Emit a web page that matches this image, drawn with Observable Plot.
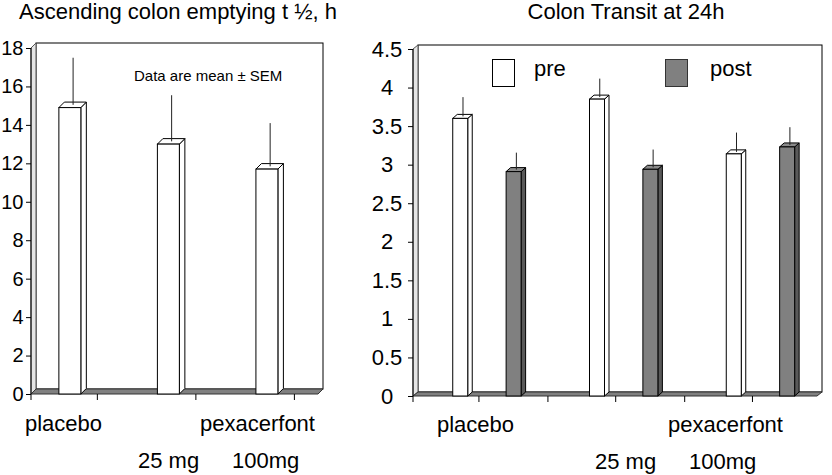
<!DOCTYPE html>
<html><head><meta charset="utf-8">
<script src="https://cdn.jsdelivr.net/npm/d3@7"></script>
<script src="https://cdn.jsdelivr.net/npm/@observablehq/plot@0.6"></script>
<style>
body{margin:0;background:#fff;}
#wrap{position:relative;width:832px;height:475px;overflow:hidden;font-family:"Liberation Sans",Arial,sans-serif;}
#wrap > svg{position:absolute;top:0;margin:0;overflow:visible;}
</style></head><body><div id="wrap"></div>
<script>
// ---------- data ----------
const emptyingGroups = ["placebo", "25 mg", "100mg"];
const emptyingMean = [14.9, 13.0, 11.7];
const emptyingSEM = [2.45, 2.4, 2.25];
const emptyingTicks = [0, 2, 4, 6, 8, 10, 12, 14, 16, 18];

const transitGroups = ["placebo", "25 mg", "100mg"];
const transitPreMean = [3.60, 3.85, 3.14];
const transitPreSEM = [0.25, 0.24, 0.25];
const transitPostMean = [2.91, 2.94, 3.23];
const transitPostSEM = [0.22, 0.23, 0.23];
const transitTicks = [0, 0.5, 1, 1.5, 2, 2.5, 3, 3.5, 4, 4.5];
const seriesNames = ["pre", "post"];

const leftTitle = "Ascending colon emptying t \u00bd, h";
const rightTitle = "Colon Transit at 24h";
const note = "Data are mean \u00b1 SEM";
const rowLabels1 = ["placebo", "pexacerfont"];
const rowLabels2 = ["25 mg", "100mg"];

const FONT = '"Liberation Sans", Arial, sans-serif';
const GRAY = "#808080";

// ---------- helpers ----------
function walls(ymax, [dx, dy]) {
  return (index, {y}, values, dims) => {
    const x0 = dims.marginLeft, x1 = dims.width - dims.marginRight;
    const y0 = y(0), yt = y(ymax);
    const g = d3.create("svg:g");
    g.append("rect").attr("x", x0 + dx).attr("y", yt - dy).attr("width", x1 - x0).attr("height", y0 - yt)
      .attr("fill", "white").attr("stroke", "black");
    g.append("path").attr("d", `M${x0},${y0}V${yt}L${x0 + dx},${yt - dy}V${y0 - dy}Z`)
      .attr("fill", "#e4e4e4").attr("stroke", "#555");
    g.append("path").attr("d", `M${x0},${y0}H${x1}L${x1 + dx},${y0 - dy}H${x0 + dx}Z`)
      .attr("fill", GRAY).attr("stroke", "#333");
    g.append("line").attr("x1", x0).attr("x2", x0).attr("y1", yt).attr("y2", y0 + 6).attr("stroke", "black");
    return g.node();
  };
}
function faces3d(rows, {place, w, depth: [dx, dy], top, side}) {
  return (index, {x, y}) => {
    const g = d3.create("svg:g");
    const bw = x.bandwidth();
    for (const r of rows) {
      const xl = x(r.group) + place(bw), xr = xl + w;
      const yt = y(r.mean), yb = y(0);
      g.append("path").attr("d", `M${xr},${yt}L${xr + dx},${yt - dy}V${yb - dy}L${xr},${yb}Z`)
        .attr("fill", side).attr("stroke", "black");
      g.append("path").attr("d", `M${xl},${yt}L${xl + dx},${yt - dy}H${xr + dx}L${xr},${yt}Z`)
        .attr("fill", top).attr("stroke", "black");
    }
    return g.node();
  };
}

const wrap = document.getElementById("wrap");

// ---------- left panel ----------
const leftRows = emptyingGroups.map((g, i) => ({group: g, mean: emptyingMean[i], sem: emptyingSEM[i]}));
const L = {width: 340, height: 475, marginLeft: 31, marginRight: 22, marginTop: 48, marginBottom: 81};
const leftX = {type: "band", domain: emptyingGroups, paddingInner: 0.777, paddingOuter: 0.345, align: 0.41, round: false, label: null};
const leftBw = Plot.scale({x: {...leftX, range: [L.marginLeft, L.width - L.marginRight]}}).bandwidth;
const leftPlot = Plot.plot({
  ...L,
  x: leftX,
  y: {domain: [0, 18], label: null},
  style: {fontFamily: FONT, fontSize: "22px", color: "black", background: "none"},
  marks: [
    walls(18, [5, 5]),
    Plot.axisY({ticks: emptyingTicks, tickSize: 5, tickPadding: 3, fontSize: 20, tickFormat: d => String(d), label: null}),
    Plot.axisX({fill: "none", tickSize: 6, dx: 27, label: null}),
    faces3d(leftRows, {place: () => 0, w: leftBw, depth: [5.5, 5.5], top: "white", side: "white"}),
    Plot.barY(leftRows, {x: "group", y: "mean", fill: "white", stroke: "black"}),
    Plot.ruleX(leftRows, {x: "group", y1: "mean", y2: d => d.mean + d.sem, dx: 2.75, dy: -2.75, stroke: "#222"})
  ]
});
leftPlot.style.left = "0px";
wrap.appendChild(leftPlot);

// ---------- right panel ----------
const preRows = transitGroups.map((g, i) => ({group: g, series: seriesNames[0], mean: transitPreMean[i], sem: transitPreSEM[i]}));
const postRows = transitGroups.map((g, i) => ({group: g, series: seriesNames[1], mean: transitPostMean[i], sem: transitPostSEM[i]}));
const R = {width: 492, height: 475, marginLeft: 73, marginRight: 15, marginTop: 49, marginBottom: 79};
const rightX = {type: "band", domain: transitGroups, paddingInner: 0.5, paddingOuter: 0.227, align: 0.64, round: false, label: null};
const rBw = Plot.scale({x: {...rightX, range: [R.marginLeft, R.width - R.marginRight]}}).bandwidth;
const BW = 15;
const rDepth = [4.5, 4];
const rightPlot = Plot.plot({
  ...R,
  x: rightX,
  y: {domain: [0, 4.5], label: null},
  style: {fontFamily: FONT, fontSize: "22px", color: "black", background: "none"},
  marks: [
    walls(4.5, [5, 4]),
    Plot.axisY({ticks: transitTicks, tickSize: 5, tickPadding: 21.5, textAnchor: "middle", tickFormat: d => String(d), label: null}),
    Plot.axisX({fill: "none", tickSize: 6, dx: -8.5, label: null}),
    Plot.axisX({fill: "none", tickSize: 6, dx: 60.5, ticks: transitGroups.slice(0, 2), label: null}),
    faces3d(preRows, {place: () => 0, w: BW, depth: rDepth, top: "white", side: "white"}),
    faces3d(postRows, {place: bw => bw - BW, w: BW, depth: rDepth, top: "#8a8a8a", side: "#595959"}),
    Plot.barY(preRows, {x: "group", y: "mean", fill: "white", stroke: "black", insetRight: rBw - BW}),
    Plot.barY(postRows, {x: "group", y: "mean", fill: GRAY, stroke: "black", insetLeft: rBw - BW}),
    Plot.ruleX(preRows, {x: "group", y1: "mean", y2: d => d.mean + d.sem, dx: -rBw / 2 + BW / 2 + rDepth[0] / 2, dy: -rDepth[1] / 2, stroke: "#222"}),
    Plot.ruleX(postRows, {x: "group", y1: "mean", y2: d => d.mean + d.sem, dx: rBw / 2 - BW / 2 + rDepth[0] / 2, dy: -rDepth[1] / 2, stroke: "#222"})
  ]
});
rightPlot.style.left = "340px";
wrap.appendChild(rightPlot);

// ---------- text overlay: titles, category labels, legend ----------
const ov = d3.select(wrap).append("svg").attr("width", 832).attr("height", 475)
  .style("left", "0px").style("pointer-events", "none")
  .attr("font-family", FONT).attr("fill", "black");
ov.append("text").attr("x", 178).attr("y", 19).attr("text-anchor", "middle").attr("font-size", 22).text(leftTitle);
ov.append("text").attr("x", 626).attr("y", 19).attr("text-anchor", "middle").attr("font-size", 22).text(rightTitle);
ov.append("text").attr("x", 134).attr("y", 81).attr("font-size", 15).text(note);
[[25, 431, rowLabels1[0]], [200, 431, rowLabels1[1]], [138, 468, rowLabels2[0]], [232, 468, rowLabels2[1]],
 [437, 432, rowLabels1[0]], [668, 432, rowLabels1[1]], [595, 469, rowLabels2[0]], [689, 469, rowLabels2[1]]]
  .forEach(([x, y, t]) => ov.append("text").attr("x", x).attr("y", y).attr("font-size", 22).text(t));
// legend
ov.append("rect").attr("x", 492.5).attr("y", 59.5).attr("width", 22).attr("height", 27).attr("fill", "white").attr("stroke", "black");
ov.append("text").attr("x", 534).attr("y", 76).attr("font-size", 22).text(seriesNames[0]);
ov.append("rect").attr("x", 665.5).attr("y", 59.5).attr("width", 22).attr("height", 27).attr("fill", GRAY).attr("stroke", "#333");
ov.append("text").attr("x", 710).attr("y", 76).attr("font-size", 22).text(seriesNames[1]);
</script></body></html>
